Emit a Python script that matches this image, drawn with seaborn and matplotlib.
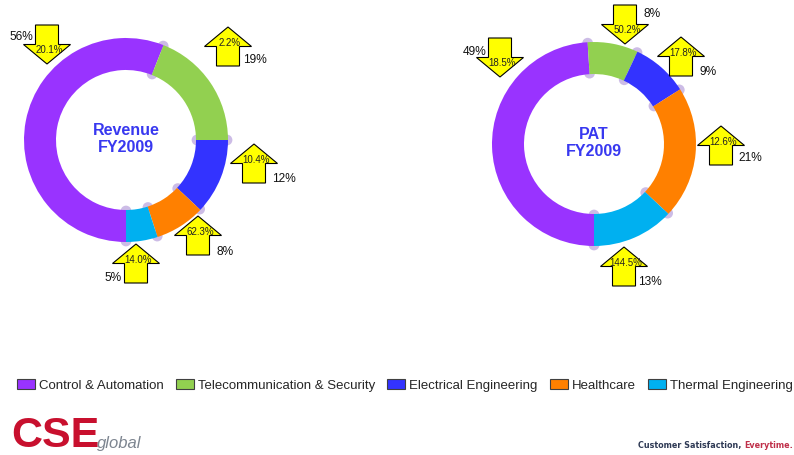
import matplotlib
matplotlib.use("Agg")
import matplotlib.pyplot as plt
import seaborn as sns
import numpy as np
from matplotlib.patches import Polygon, Patch

# ---------------- data ----------------
segments = ["Control & Automation", "Telecommunication & Security",
            "Electrical Engineering", "Healthcare", "Thermal Engineering"]
revenue_share = [56, 19, 12, 8, 5]            # % of FY2009 revenue
pat_share = [49, 8, 9, 21, 13]                # % of FY2009 PAT
revenue_growth = [20.1, 2.2, 10.4, 62.3, 14.0]
revenue_trend = ["down", "up", "up", "up", "up"]
pat_growth = [18.5, 50.2, 17.8, 12.6, 144.5]
pat_trend = ["down", "down", "up", "up", "up"]
chart_titles = ["Revenue\nFY2009", "PAT\nFY2009"]
seg_colors = ["#9933FF", "#92D050", "#3333FF", "#FF8000", "#00B0F0"]

# ---------------- layout (pixels, origin top-left) ----------------
W, H = 794, 456
centers = [(126, 141), (594, 145)]
R_OUT, RING = 102, 32
arrow_tips = [
    [(47, 65), (228, 28), (254, 145), (198, 217), (136, 245)],
    [(500, 78), (625, 45), (681, 38), (721, 127), (624, 248)],
]
share_pos = [
    [(21, 37), (255, 60), (284, 179), (225, 252), (113, 278)],
    [(475, 52), (652, 14), (708, 72), (750, 158), (650, 282)],
]

sns.set_theme(style="white")
plt.rcParams["font.family"] = ["Liberation Sans", "DejaVu Sans"]
palette = sns.color_palette(seg_colors)

fig = plt.figure(figsize=(W / 100, H / 100), dpi=100)
ax = fig.add_axes([0, 0, 1, 1])


def Y(y):
    return H - y


def block_arrow(tip, direction):
    x, y = tip
    s = 1 if direction == "up" else -1
    hw, hh, sw, L = 23.5, 19.5, 11.5, 39
    pts = [(x, y), (x + hw, y + s * hh), (x + sw, y + s * hh), (x + sw, y + s * L),
           (x - sw, y + s * L), (x - sw, y + s * hh), (x - hw, y + s * hh)]
    return [(px, Y(py)) for px, py in pts]


datasets = [(revenue_share, revenue_growth, revenue_trend),
            (pat_share, pat_growth, pat_trend)]

for k, (shares, growth, trend) in enumerate(datasets):
    cx, cy = centers[k]
    wedges, _ = ax.pie(shares, colors=palette, startangle=-90, counterclock=False,
                       radius=R_OUT, center=(cx, Y(cy)),
                       wedgeprops=dict(width=RING, edgecolor="none", linewidth=0))
    for w in wedges:
        w.set_zorder(2)
    # soft lavender blobs at the segment boundaries
    cum = np.cumsum([0] + list(shares))[:-1]
    ang = np.deg2rad(-90 - 360 * cum / np.sum(shares))
    for r in (R_OUT - 1, R_OUT - RING + 1):
        ax.scatter(cx + r * np.cos(ang), Y(cy) + r * np.sin(ang), s=60,
                   color="#bca6de", alpha=0.75, edgecolors="none", zorder=1)
    ax.text(cx, Y(cy - 2), chart_titles[k], ha="center", va="center",
            fontsize=11.5, fontweight="bold", color="#3838F0", linespacing=1.2,
            zorder=5)
    for i in range(len(shares)):
        tip = arrow_tips[k][i]
        ax.add_patch(Polygon(block_arrow(tip, trend[i]), closed=True,
                             facecolor="#FFFF00", edgecolor="black",
                             linewidth=0.8, zorder=4))
        s = 1 if trend[i] == "up" else -1
        ax.text(tip[0] + 2, Y(tip[1] + s * 15), f"{growth[i]:.1f}%",
                ha="center", va="center", fontsize=7, color="#222222", zorder=5)
        sx, sy = share_pos[k][i]
        ax.text(sx, Y(sy), f"{shares[i]}%", ha="center", va="center",
                fontsize=8.6, color="#111111", zorder=5)

ax.set_xlim(0, W)
ax.set_ylim(0, H)
ax.set_aspect("auto")
ax.axis("off")

# legend
handles = [Patch(facecolor=c, edgecolor="#404040", linewidth=0.8) for c in palette]
fig.legend(handles, segments, ncol=5, loc="center left",
           bbox_to_anchor=(17 / W, 1 - 386 / H), frameon=False, fontsize=9.5,
           handlelength=1.36, handleheight=0.83, handletextpad=0.28,
           columnspacing=0.95, borderpad=0, borderaxespad=0)

# logo + tagline
ax.text(11, Y(447), "CSE", fontsize=31, fontweight="heavy", color="#c8102e",
        va="baseline", ha="left")
ax.text(97, Y(448), "global", fontsize=12, style="italic", color="#7d8590",
        va="baseline", ha="left")
fig.canvas.draw()
renderer = fig.canvas.get_renderer()
t2 = ax.text(793, Y(448), "Everytime.", fontsize=5.8, fontweight="bold",
             family="DejaVu Sans", color="#c0304a", va="baseline", ha="right")
bb = t2.get_window_extent(renderer)
ax.text(bb.x0 - 2.5, Y(448), "Customer Satisfaction,", fontsize=5.8,
        fontweight="bold", family="DejaVu Sans", color="#2f3a55",
        va="baseline", ha="right")

fig.savefig("out.png", dpi=100)
